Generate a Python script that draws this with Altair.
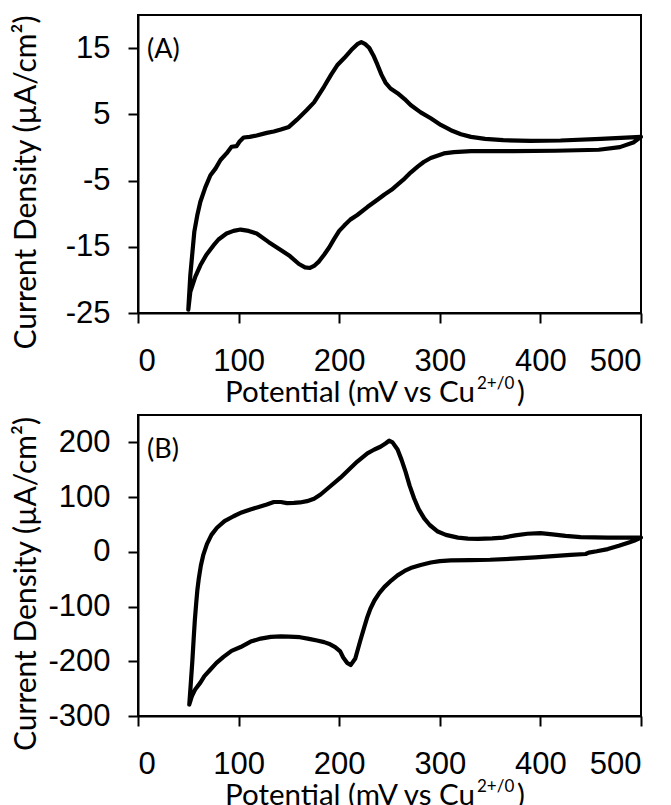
import altair as alt
import pandas as pd

# ---- Panel (A): cyclic voltammogram, current density in uA/cm2 ----
potential_a = [
    50, 52, 54, 56, 59, 62, 67, 72, 77, 82, 88, 93, 98, 101, 105, 111, 118, 128,
    135, 142, 150, 158, 168, 175, 185, 192, 198, 205, 212, 218, 222, 226, 230,
    234, 238, 242, 246, 251, 258, 265, 271, 281, 291, 301, 311, 321, 331, 345,
    363, 390, 420, 460, 500,
    493, 479, 458, 415, 373, 331, 314, 304, 291, 284, 278, 271, 265, 258, 252,
    245, 238, 228, 218, 211, 205, 200, 195, 190, 185, 180, 175, 171, 166, 160,
    151, 140, 130, 118, 110, 102, 95, 88, 80, 75, 68, 62, 57, 52, 50,
]
current_a = [
    -24.5, -19.3, -16.0, -12.7, -10.2, -8.2, -6.0, -4.2, -3.2, -1.9, -0.9, 0.1,
    0.2, 0.9, 1.5, 1.6, 1.8, 2.2, 2.4, 2.7, 3.1, 4.2, 5.7, 6.8, 9.2, 11.0, 12.4,
    13.5, 14.7, 15.6, 15.9, 15.6, 15.0, 13.9, 12.5, 11.0, 9.8, 8.9, 8.2, 7.3,
    6.4, 5.3, 4.4, 3.4, 2.6, 2.0, 1.6, 1.3, 1.1, 1.0, 1.05, 1.3, 1.6,
    0.8, 0.05, -0.35, -0.5, -0.55, -0.55, -0.7, -0.9, -1.6, -2.2, -2.9, -3.8,
    -4.7, -5.6, -6.4, -7.1, -7.9, -9.0, -10.2, -10.9, -11.8, -12.6, -13.8,
    -15.1, -16.2, -17.2, -17.9, -18.2, -18.1, -17.6, -16.4, -15.3, -14.3,
    -13.0, -12.6, -12.4, -12.6, -13.0, -13.9, -14.8, -16.2, -17.8, -19.5,
    -21.8, -24.5,
]

# ---- Panel (B) ----
potential_b = [
    51, 52.5, 54, 55.3, 56.5, 57.8, 59, 60.5, 62.5, 65, 68.5, 73, 78.5, 86, 95,
    103, 111.7, 120, 128, 135, 142, 148, 155, 161, 168, 175, 181.5, 190, 201,
    210, 218, 228, 235, 241, 246, 249.6, 253, 258, 262, 266, 270, 274.5, 279,
    284.5, 290, 298, 306, 318, 328, 338, 352, 363, 375, 387, 400, 412, 425, 440,
    467, 500,
    493, 488, 478, 467, 456, 448, 445, 430, 416, 395, 373, 350, 330, 311, 300,
    291, 281, 271, 265, 258, 252, 245, 240, 235, 231, 228, 225, 221, 216, 211.4,
    208, 204, 201, 196, 191, 185, 178, 170, 161, 150, 142, 132, 122, 112, 102,
    93, 85, 78, 72, 66, 62, 57, 53.5, 51,
]
current_b = [
    -279, -240, -200, -160, -125, -95, -70, -48, -25, -5, 14, 31, 44, 56, 65,
    72, 77.5, 82, 86.5, 91, 91, 89, 89.5, 90.2, 92.6, 97, 104.7, 118, 135, 151,
    165, 180, 187, 192, 198, 203, 200, 187, 168, 146, 121, 97.5, 78, 61,
    49, 37, 31, 26, 24.2, 23.6, 24.5, 26, 30, 33, 34, 32, 29, 27, 26, 26,
    20, 17, 11, 5, 1, -1.5, -4, -5.5, -7.3, -10, -12.5, -14.5, -15.3, -15.8,
    -17, -19.5, -24, -29.6, -35, -43, -52, -64, -75, -89, -104, -119, -137,
    -162, -195, -207, -203, -193, -182, -174, -169, -165, -162, -159, -156,
    -155, -154.5, -155.5, -158.5, -164, -174, -181, -192, -203, -215, -227,
    -239, -251, -264, -279,
]

x_ticks = [0, 100, 200, 300, 400, 500]
y_ticks_a = [-25, -15, -5, 5, 15]
y_ticks_b = [-300, -200, -100, 0, 100, 200]
y_title = "Current Density (µA/cm²)"
x_title_parts = ["Potential (mV vs Cu", "2+/0", ")"]

TICK_FONT = "Liberation Sans, Arial"
TITLE_FONT = "Lato"
W = 503


def panel(pot, cur, ydomain, yticks, tag, h, anchor=False):
    df = pd.DataFrame({"potential": pot, "current": cur, "step": range(len(pot))})
    line = alt.Chart(df).mark_line(
        color="black", strokeWidth=4.2, strokeJoin="round", strokeCap="round"
    ).encode(
        x=alt.X(
            "potential:Q",
            scale=alt.Scale(domain=[0, 500], nice=False),
            axis=alt.Axis(values=x_ticks, title=None, labelPadding=23, tickSize=10),
        ),
        y=alt.Y(
            "current:Q",
            scale=alt.Scale(domain=ydomain, nice=False, zero=False),
            axis=alt.Axis(
                values=yticks, title=y_title, labelPadding=18, tickSize=10,
                labelExpr="'' + datum.value",
                titleAngle=270, titleAlign="center", titleBaseline="middle",
                titleX=-112, titleY=h / 2 + 18, titleFontSize=30,
            ),
        ),
        order="step:Q",
    )
    tag_df = pd.DataFrame({"t": [tag]})
    tag_mark = alt.Chart(tag_df).mark_text(
        align="left", baseline="middle", font=TITLE_FONT, fontSize=27, color="black"
    ).encode(x=alt.value(9), y=alt.value(35), text="t:N")

    # x-axis title with a superscripted redox couple
    base_y = h + 89
    main = alt.Chart(pd.DataFrame({"t": [x_title_parts[0]]})).mark_text(
        align="right", baseline="alphabetic", font=TITLE_FONT, fontSize=29.5, color="black"
    ).encode(x=alt.value(337), y=alt.value(base_y), text="t:N")
    sup = alt.Chart(pd.DataFrame({"t": [x_title_parts[1]]})).mark_text(
        align="left", baseline="alphabetic", font=TITLE_FONT, fontSize=17, color="black"
    ).encode(x=alt.value(339), y=alt.value(base_y - 13), text="t:N")
    close = alt.Chart(pd.DataFrame({"t": [x_title_parts[2]]})).mark_text(
        align="left", baseline="alphabetic", font=TITLE_FONT, fontSize=29.5, color="black"
    ).encode(x=alt.value(379), y=alt.value(base_y), text="t:N")

    layers = [line, tag_mark, main, sup, close]
    if anchor:
        # pins the top-left corner of the drawing
        layers.append(
            alt.Chart(pd.DataFrame({"t": [0]})).mark_rule(color="white", strokeWidth=1).encode(
                x=alt.value(-136.5), x2=alt.value(-135.5), y=alt.value(-13.5), y2=alt.value(-13.5)
            )
        )
    return alt.layer(*layers).properties(width=W, height=h)


chart_a = panel(potential_a, current_a, [-25, 20], y_ticks_a, "(A)", 298, anchor=True)
chart_b = panel(potential_b, current_b, [-300, 250], y_ticks_b, "(B)", 301)

chart = alt.vconcat(chart_a, chart_b, spacing=102, bounds="flush").properties(
    padding=0, background="white"
).configure_view(
    stroke="black", strokeWidth=2
).configure_axis(
    grid=False,
    domainColor="black", domainWidth=2,
    tickColor="black", tickWidth=2,
    labelFont=TICK_FONT, labelFontSize=31, labelColor="black",
    titleFont=TITLE_FONT, titleFontSize=30, titleColor="black", titleFontWeight="normal",
)

chart.save("out.html", embed_options={"renderer": "svg", "actions": False})
